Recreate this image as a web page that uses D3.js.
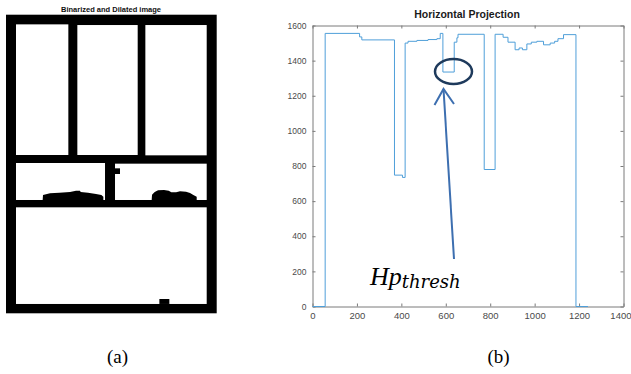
<!DOCTYPE html>
<html>
<head>
<meta charset="utf-8">
<script src="https://cdn.jsdelivr.net/npm/d3@7"></script>
<style>
  body { margin: 0; background: #fff; }
  svg { display: block; }
</style>
</head>
<body>
<div id="chart"></div>
<script>
// ---- data ----
// (a) binarized image, in image units (frame is IMG_W x IMG_H)
const IMG_W = 632, IMG_H = 896;
const whiteCells = [
  [30, 29, 187, 421],
  [214, 31, 395, 421],
  [418, 31, 602, 422],
  [30, 445, 297, 556],
  [327, 447, 602, 556],
  [30, 578, 602, 868]
];
const blackBlobs = [
  [[110, 556], [111, 541], [132, 536], [160, 534], [192, 532], [210, 528], [222, 528], [224, 532], [246, 534], [270, 538], [286, 541], [292, 546], [292, 556]],
  [[327, 461], [342, 461], [342, 478], [327, 478]],
  [[437, 556], [438, 540], [446, 532], [456, 527], [474, 526], [488, 528], [496, 533], [510, 533], [522, 530], [540, 531], [552, 535], [562, 541], [572, 546], [572, 556]],
  [[460, 853], [490, 853], [490, 868], [460, 868]]
];

// (b) horizontal projection: [row, value], step after
const rows =   [0, 57,   212,  222,  369, 405, 417,  430,  470,  520,  560,  575,  587,  638,  650,  655,  773, 822,  858,  880,  912,  930,  945,  965,  985,  1010, 1040, 1070, 1090, 1105, 1130, 1186, 1240];
const values = [0, 1555, 1535, 1518, 748, 735, 1500, 1510, 1515, 1520, 1525, 1555, 1335, 1505, 1530, 1550, 780, 1550, 1533, 1505, 1462, 1472, 1462, 1495, 1505, 1510, 1490, 1500, 1510, 1525, 1548, 0,   0];
const xTicks = [0, 200, 400, 600, 800, 1000, 1200, 1400];
const yTicks = [0, 200, 400, 600, 800, 1000, 1200, 1400, 1600];

const W = 631, H = 374;
const svg = d3.select("#chart").append("svg")
  .attr("width", W).attr("height", H);
svg.append("rect").attr("width", W).attr("height", H).attr("fill", "#fff");

// ---- (a) image ----
const ix = d3.scaleLinear().domain([0, IMG_W]).range([6, 216.7]);
const iy = d3.scaleLinear().domain([0, IMG_H]).range([14.7, 313.3]);

const img = svg.append("g");
img.append("rect")
  .attr("x", ix(0)).attr("y", iy(0))
  .attr("width", ix(IMG_W) - ix(0)).attr("height", iy(IMG_H) - iy(0))
  .attr("fill", "#000");
img.selectAll("rect.cell")
  .data(whiteCells)
  .enter().append("rect")
  .attr("class", "cell")
  .attr("x", d => ix(d[0])).attr("y", d => iy(d[1]))
  .attr("width", d => ix(d[2]) - ix(d[0]))
  .attr("height", d => iy(d[3]) - iy(d[1]))
  .attr("fill", "#fff");
img.selectAll("path.blob")
  .data(blackBlobs)
  .enter().append("path")
  .attr("class", "blob")
  .attr("d", d => d3.line().x(p => ix(p[0])).y(p => iy(p[1]))(d) + "Z")
  .attr("fill", "#000");

svg.append("text")
  .attr("x", 111).attr("y", 11.5)
  .attr("text-anchor", "middle")
  .style("font-family", "'Liberation Sans', Arial, sans-serif")
  .style("font-weight", "bold")
  .style("font-size", "7.5px")
  .attr("fill", "#111")
  .text("Binarized and Dilated image");

// ---- (b) projection plot ----
const x = d3.scaleLinear().domain([0, 1400]).range([312.5, 623.5]);
const y = d3.scaleLinear().domain([0, 1600]).range([306.5, 25.5]);
const axisColor = "#7a7a7a";
const labelColor = "#4a4a4a";
const fmt = d3.format("d");

const gx = svg.append("g")
  .attr("transform", `translate(0,${y(0)})`)
  .call(d3.axisBottom(x).tickValues(xTicks).tickFormat(fmt).tickSizeInner(-3).tickSizeOuter(0).tickPadding(6));
const gy = svg.append("g")
  .attr("transform", `translate(${x(0)},0)`)
  .call(d3.axisLeft(y).tickValues(yTicks).tickFormat(fmt).tickSizeInner(-3).tickSizeOuter(0).tickPadding(6));
const gxTop = svg.append("g")
  .attr("transform", `translate(0,${y(1600)})`)
  .call(d3.axisTop(x).tickValues(xTicks).tickSizeInner(-3).tickSizeOuter(0).tickFormat(""));
const gyRight = svg.append("g")
  .attr("transform", `translate(${x(1400)},0)`)
  .call(d3.axisRight(y).tickValues(yTicks).tickSizeInner(-3).tickSizeOuter(0).tickFormat(""));

[gx, gy, gxTop, gyRight].forEach(g => {
  g.selectAll("path, line").attr("stroke", axisColor);
  g.selectAll("text")
    .attr("fill", labelColor)
    .style("font-family", "'Liberation Sans', Arial, sans-serif");
});
gx.selectAll("text").style("font-size", "9.5px");
gy.selectAll("text").style("font-size", "8.5px");
// last x label sits at the window edge: keep it inside
gx.selectAll(".tick").filter(d => d === 1400).select("text")
  .attr("text-anchor", "end").attr("x", 631 - x(1400));

const series = rows.map((r, i) => [r, values[i]]);
svg.append("path")
  .datum(series)
  .attr("fill", "none")
  .attr("stroke", "#4f9fd9")
  .attr("stroke-width", 1)
  .attr("d", d3.line().x(d => x(d[0])).y(d => y(d[1])).curve(d3.curveStepAfter));

svg.append("text")
  .attr("x", 467).attr("y", 18)
  .attr("text-anchor", "middle")
  .style("font-family", "'Liberation Sans', Arial, sans-serif")
  .style("font-weight", "bold")
  .style("font-size", "10.5px")
  .attr("fill", "#1a1a1a")
  .text("Horizontal Projection");

// annotation: circle round the threshold dip, arrow and label
svg.append("ellipse")
  .attr("cx", 453.5).attr("cy", 71.5)
  .attr("rx", 18.5).attr("ry", 12.5)
  .attr("fill", "none")
  .attr("stroke", "#1e3a5c")
  .attr("stroke-width", 2.5);

svg.append("line")
  .attr("x1", 454).attr("y1", 259)
  .attr("x2", 443.5).attr("y2", 89)
  .attr("stroke", "#3d6fb0").attr("stroke-width", 2);
svg.append("path")
  .attr("d", "M434.5,105L443.5,89L454,104")
  .attr("fill", "none")
  .attr("stroke", "#3d6fb0").attr("stroke-width", 2);

const lbl = svg.append("text")
  .attr("x", 370).attr("y", 285)
  .attr("fill", "#000")
  .style("font-style", "italic");
lbl.append("tspan")
  .style("font-family", "'Liberation Serif', serif")
  .style("font-size", "26px")
  .text("Hp");
lbl.append("tspan")
  .attr("dy", 3)
  .style("font-family", "'DejaVu Serif', serif")
  .style("font-size", "18px")
  .text("thresh");

// ---- captions ----
svg.selectAll("text.caption")
  .data([["(a)", 117.5], ["(b)", 498.5]])
  .enter().append("text")
  .attr("class", "caption")
  .attr("x", d => d[1]).attr("y", 363)
  .attr("text-anchor", "middle")
  .style("font-family", "'Liberation Serif', 'Times New Roman', serif")
  .style("font-size", "19px")
  .attr("fill", "#000")
  .text(d => d[0]);
</script>
</body>
</html>
